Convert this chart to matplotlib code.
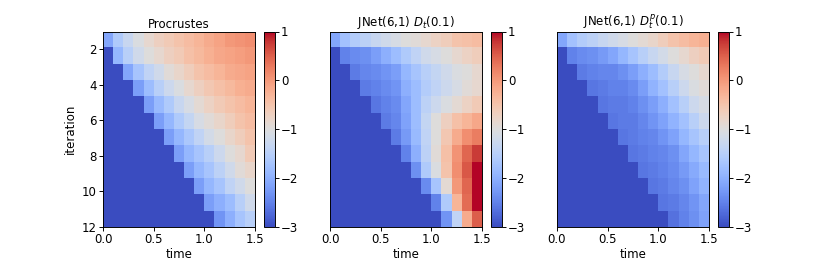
import numpy as np
import matplotlib.pyplot as plt

# log10 error per (iteration, time step); row i starts at time column i-1,
# cells before that are below the colour range
floor = -4.0
n_cols = 15
titles = ["Procrustes", r"JNet(6,1) $D_t(0.1)$", r"JNet(6,1) $D_t^p(0.1)$"]

procrustes = [
    [-2.1, -1.6, -1.3, -1.05, -0.85, -0.7, -0.6, -0.5, -0.4, -0.3, -0.2, -0.1, 0.0, 0.05, 0.1],
    [-1.9, -1.5, -1.2, -1.0, -0.85, -0.7, -0.6, -0.45, -0.35, -0.25, -0.15, -0.1, -0.05, 0.0],
    [-2.1, -1.7, -1.4, -1.2, -0.95, -0.8, -0.65, -0.5, -0.4, -0.3, -0.2, -0.15, -0.1],
    [-2.2, -1.8, -1.5, -1.25, -1.05, -0.85, -0.7, -0.55, -0.45, -0.35, -0.25, -0.2],
    [-2.2, -1.85, -1.6, -1.3, -1.1, -0.9, -0.75, -0.6, -0.5, -0.4, -0.3],
    [-2.2, -1.9, -1.6, -1.35, -1.1, -0.95, -0.8, -0.65, -0.5, -0.4],
    [-2.2, -1.9, -1.65, -1.4, -1.15, -1.0, -0.8, -0.65, -0.5],
    [-2.2, -1.9, -1.7, -1.5, -1.25, -1.0, -0.85, -0.6],
    [-2.2, -1.9, -1.7, -1.45, -1.2, -0.95, -0.8],
    [-2.2, -1.9, -1.7, -1.4, -1.2, -1.0],
    [-2.2, -2.0, -1.8, -1.5, -1.2],
    [-2.3, -2.0, -1.7, -1.5],
]

jnet_dt = [
    [-2.1, -1.75, -1.55, -1.45, -1.3, -1.2, -1.1, -1.0, -0.95, -0.85, -0.75, -0.65, -0.5, -0.45, -0.4],
    [-2.5, -2.4, -2.35, -2.2, -2.0, -1.8, -1.6, -1.4, -1.2, -1.1, -1.0, -0.85, -0.75, -0.65],
    [-2.55, -2.45, -2.4, -2.3, -2.2, -1.9, -1.7, -1.5, -1.35, -1.2, -1.05, -1.0, -0.85],
    [-2.55, -2.5, -2.4, -2.3, -2.0, -1.8, -1.55, -1.4, -1.25, -1.1, -0.95, -0.85],
    [-2.6, -2.5, -2.4, -2.1, -1.8, -1.45, -1.25, -1.05, -0.9, -0.75, -0.6],
    [-2.55, -2.45, -2.15, -1.8, -1.35, -1.0, -0.7, -0.45, -0.3, -0.15],
    [-2.55, -2.25, -1.85, -1.4, -1.0, -0.55, -0.2, 0.1, 0.25],
    [-2.5, -2.0, -1.45, -0.95, -0.45, 0.05, 0.45, 0.75],
    [-2.35, -1.6, -1.05, -0.5, 0.1, 0.55, 1.0],
    [-2.4, -1.7, -0.9, 0.0, 0.45, 1.0],
    [-2.5, -1.6, -0.3, 0.4, 1.0],
    [-2.3, -1.4, -0.2, 0.5],
]

jnet_dtp = [
    [-2.1, -1.75, -1.55, -1.45, -1.3, -1.2, -1.1, -1.0, -0.9, -0.8, -0.65, -0.5, -0.4, -0.3, -0.25],
    [-2.5, -2.4, -2.35, -2.25, -2.1, -1.9, -1.7, -1.5, -1.3, -1.15, -1.0, -0.85, -0.7, -0.6],
    [-2.55, -2.5, -2.45, -2.45, -2.35, -2.2, -2.0, -1.8, -1.55, -1.3, -1.1, -1.0, -0.85],
    [-2.6, -2.55, -2.5, -2.5, -2.4, -2.2, -1.95, -1.75, -1.5, -1.25, -1.05, -0.95],
    [-2.6, -2.55, -2.55, -2.5, -2.35, -2.2, -2.0, -1.75, -1.5, -1.25, -1.1],
    [-2.6, -2.55, -2.55, -2.45, -2.3, -2.15, -1.95, -1.75, -1.5, -1.25],
    [-2.6, -2.55, -2.5, -2.45, -2.3, -2.15, -1.9, -1.7, -1.5],
    [-2.6, -2.55, -2.5, -2.45, -2.35, -2.1, -1.9, -1.7],
    [-2.6, -2.55, -2.5, -2.4, -2.25, -2.05, -1.85],
    [-2.6, -2.55, -2.45, -2.35, -2.15, -1.95],
    [-2.6, -2.55, -2.45, -2.3, -2.1],
    [-2.65, -2.5, -2.35, -2.15],
]


def to_grid(rows):
    grid = np.full((len(rows), n_cols), floor)
    for i, r in enumerate(rows):
        grid[i, n_cols - len(r):] = r
    return grid


plt.rcParams["axes.titlesize"] = 10
plt.rcParams["xtick.major.size"] = 3
plt.rcParams["ytick.major.size"] = 3
plt.rcParams["xtick.major.pad"] = 2.5
plt.rcParams["ytick.major.pad"] = 2.5

dpi = 85
W, H = 830.0, 260.0
fig = plt.figure(figsize=(W / dpi, H / dpi), dpi=dpi)
lefts = [103, 330, 557]
for k, (rows, title) in enumerate(zip([procrustes, jnet_dt, jnet_dtp], titles)):
    x0 = lefts[k]
    ax = fig.add_axes([x0 / W, (H - 227) / H, 152 / W, 195.5 / H])
    cax = fig.add_axes([(x0 + 161) / W, (H - 227) / H, 10.5 / W, 195.5 / H])
    im = ax.imshow(to_grid(rows), cmap="coolwarm", vmin=-3, vmax=1,
                   extent=[0, 1.5, 12, 1], aspect="auto", interpolation="nearest")
    ax.set_title(title, pad=3)
    ax.set_xlabel("time", labelpad=1)
    ax.set_xticks([0, 0.5, 1.0, 1.5])
    if k == 0:
        ax.set_ylabel("iteration")
        ax.set_yticks([2, 4, 6, 8, 10, 12])
    else:
        ax.set_yticks([])
    cb = fig.colorbar(im, cax=cax)
    cb.set_ticks([-3, -2, -1, 0, 1])

fig.savefig("out.png", dpi=dpi)
